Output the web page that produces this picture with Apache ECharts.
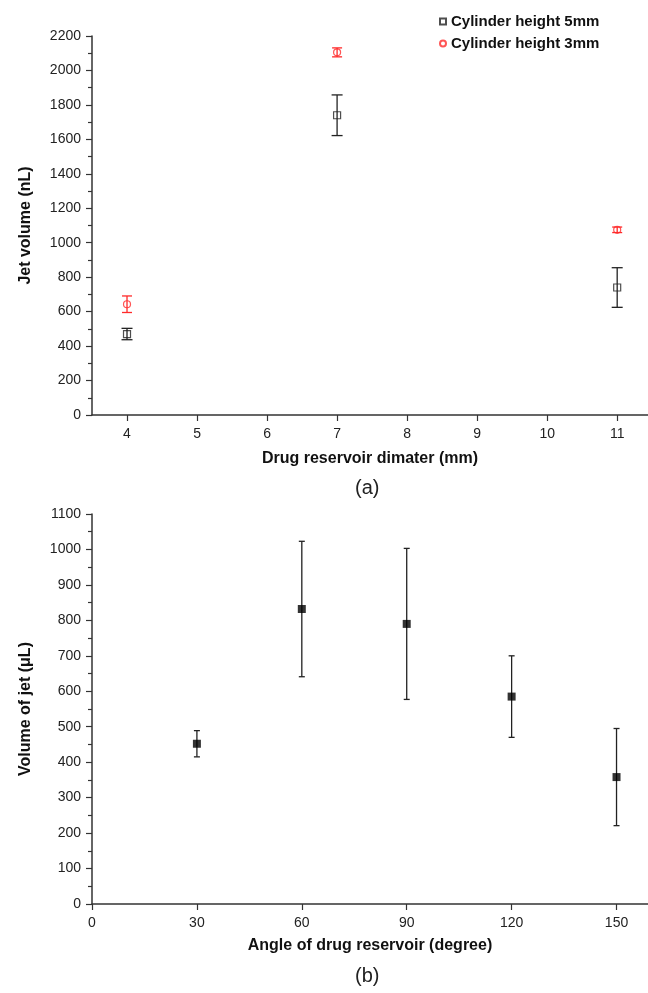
<!DOCTYPE html>
<html>
<head>
<meta charset="utf-8">
<script src="https://cdn.jsdelivr.net/npm/echarts@6/dist/echarts.min.js"></script>
<style>
  html, body { margin: 0; padding: 0; background: #fff; }
  #chart { width: 648px; height: 993px; }
</style>
</head>
<body>
<div id="chart"></div>
<script>
// (a) jet volume vs drug reservoir diameter
var diameters = [4, 7, 11]
var height5Mean = [470, 1740, 740]
var height5Err = [33, 118, 115]
var height3Mean = [643, 2105, 1075]
var height3Err = [48, 26, 16]
var diameterTicks = [4, 5, 6, 7, 8, 9, 10, 11]

// (b) jet volume vs reservoir angle
var angles = [30, 60, 90, 120, 150]
var angleMean = [452, 832, 790, 585, 358]
var angleErr = [37, 191, 213, 115, 137]
var angleTicks = [0, 30, 60, 90, 120, 150]

var FONT = '"Liberation Sans", Arial, sans-serif'
var AXIS_COLOR = '#333'
var RED = '#ff2a2a'

function points(xs, ys) {
  return xs.map(function (x, i) { return [x, ys[i]] })
}
function ranges(xs, ys, errs) {
  return xs.map(function (x, i) { return [x, ys[i] - errs[i], ys[i] + errs[i]] })
}

function errorBar(capHalf, color) {
  return function (params, api) {
    var x = api.value(0)
    var lo = api.coord([x, api.value(1)])
    var hi = api.coord([x, api.value(2)])
    var style = { stroke: color, lineWidth: 1.3 }
    return {
      type: 'group',
      children: [
        { type: 'line', shape: { x1: lo[0], y1: lo[1], x2: hi[0], y2: hi[1] }, style: style },
        { type: 'line', shape: { x1: hi[0] - capHalf, y1: hi[1], x2: hi[0] + capHalf, y2: hi[1] }, style: style },
        { type: 'line', shape: { x1: lo[0] - capHalf, y1: lo[1], x2: lo[0] + capHalf, y2: lo[1] }, style: style }
      ]
    }
  }
}

function plain(v) { return String(v) }

function xAxis(grid, min, max, ticks, name, nameGap) {
  return {
    type: 'value',
    gridIndex: grid,
    min: min,
    max: max,
    name: name,
    nameLocation: 'middle',
    nameGap: nameGap,
    nameTextStyle: { fontFamily: FONT, fontSize: 16, fontWeight: 'bold', color: '#111' },
    axisLine: { show: true, onZero: false, lineStyle: { color: AXIS_COLOR, width: 1.5 } },
    axisTick: { show: true, length: 6, customValues: ticks, lineStyle: { color: AXIS_COLOR, width: 1.2 } },
    axisLabel: { customValues: ticks, formatter: plain, margin: 12, fontFamily: FONT, fontSize: 14, color: '#222' },
    splitLine: { show: false }
  }
}

function yAxis(grid, max, interval, name, nameGap) {
  return {
    type: 'value',
    gridIndex: grid,
    min: 0,
    max: max,
    interval: interval,
    name: name,
    nameLocation: 'middle',
    nameGap: nameGap,
    nameTextStyle: { fontFamily: FONT, fontSize: 16, fontWeight: 'bold', color: '#111' },
    axisLine: { show: true, lineStyle: { color: AXIS_COLOR, width: 1.5 } },
    axisTick: { show: true, length: 6, lineStyle: { color: AXIS_COLOR, width: 1.2 } },
    minorTick: { show: true, splitNumber: 2, length: 4, lineStyle: { color: AXIS_COLOR, width: 1.2 } },
    axisLabel: { formatter: plain, margin: 11, fontFamily: FONT, fontSize: 14, color: '#222' },
    splitLine: { show: false }
  }
}

var chart = echarts.init(document.getElementById('chart'))

chart.setOption({
  animation: false,
  backgroundColor: '#fff',
  grid: [
    { left: 92, top: 36, width: 556, height: 379 },
    { left: 92, top: 514, width: 556, height: 390 }
  ],
  xAxis: [
    xAxis(0, 3.5, 11.44, diameterTicks, 'Drug reservoir dimater (mm)', 36),
    xAxis(1, 0, 159, angleTicks, 'Angle of drug reservoir (degree)', 34)
  ],
  yAxis: [
    yAxis(0, 2200, 200, 'Jet volume (nL)', 58),
    yAxis(1, 1100, 100, 'Volume of jet (\u03bcL)', 58)
  ],
  legend: {
    orient: 'vertical',
    left: 434,
    top: 9,
    itemWidth: 6,
    itemHeight: 6,
    itemGap: 7,
    data: ['Cylinder height 5mm', 'Cylinder height 3mm'],
    textStyle: { fontFamily: FONT, fontSize: 15, fontWeight: 'bold', color: '#111' }
  },
  graphic: [
    { type: 'text', left: 355, top: 478, style: { text: '(a)', font: '20px ' + FONT, fill: '#222' } },
    { type: 'text', left: 355, top: 966, style: { text: '(b)', font: '20px ' + FONT, fill: '#222' } }
  ],
  series: [
    {
      type: 'custom',
      xAxisIndex: 0, yAxisIndex: 0,
      renderItem: errorBar(5.5, '#222'),
      encode: { x: 0, y: [1, 2] },
      data: ranges(diameters, height5Mean, height5Err),
      z: 1
    },
    {
      type: 'custom',
      xAxisIndex: 0, yAxisIndex: 0,
      renderItem: errorBar(5, RED),
      encode: { x: 0, y: [1, 2] },
      data: ranges(diameters, height3Mean, height3Err),
      z: 1
    },
    {
      name: 'Cylinder height 5mm',
      type: 'scatter',
      xAxisIndex: 0, yAxisIndex: 0,
      symbol: 'rect',
      symbolSize: 7,
      itemStyle: { color: 'rgba(255,255,255,0)', borderColor: '#222', borderWidth: 1.2 },
      data: points(diameters, height5Mean),
      z: 2
    },
    {
      name: 'Cylinder height 3mm',
      type: 'scatter',
      xAxisIndex: 0, yAxisIndex: 0,
      symbol: 'circle',
      symbolSize: 7,
      itemStyle: { color: 'rgba(255,255,255,0)', borderColor: RED, borderWidth: 1.2 },
      data: points(diameters, height3Mean),
      z: 2
    },
    {
      type: 'custom',
      xAxisIndex: 1, yAxisIndex: 1,
      renderItem: errorBar(3, '#222'),
      encode: { x: 0, y: [1, 2] },
      data: ranges(angles, angleMean, angleErr),
      z: 1
    },
    {
      name: 'Volume of jet',
      type: 'scatter',
      xAxisIndex: 1, yAxisIndex: 1,
      symbol: 'rect',
      symbolSize: 8,
      itemStyle: { color: '#000' },
      data: points(angles, angleMean),
      z: 2
    }
  ]
})
</script>
</body>
</html>
